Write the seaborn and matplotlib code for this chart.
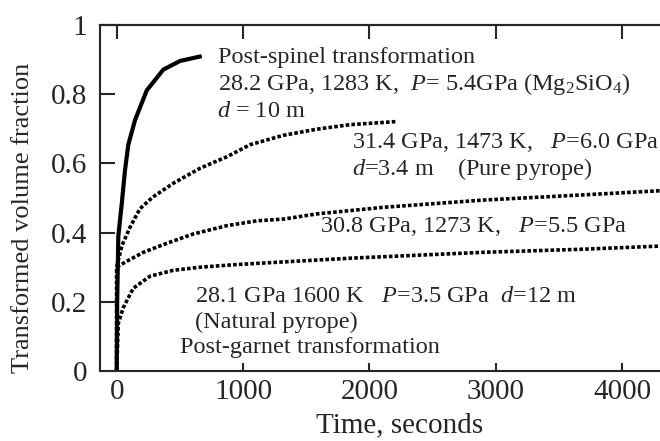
import matplotlib
matplotlib.use("Agg")
import matplotlib.pyplot as plt
import seaborn as sns

# ---- data ----
spinel_t = [0, 4, 13, 40, 66, 92, 145, 238, 369, 501, 673]
spinel_f = [0, 0.20, 0.39, 0.483, 0.581, 0.654, 0.725, 0.811, 0.871, 0.896, 0.910]

pure_t = [0, 0, 40, 105, 184, 287, 446, 660, 871, 1056, 1317, 1586, 1848, 2217]
pure_f = [0, 0.30, 0.361, 0.415, 0.469, 0.503, 0.542, 0.586, 0.619, 0.654, 0.681, 0.699, 0.712, 0.721]

mid_t = [0, 0, 79, 211, 396, 606, 871, 1108, 1319, 1584, 2108, 2900, 3692, 4300]
mid_f = [0, 0.30, 0.317, 0.343, 0.369, 0.396, 0.420, 0.434, 0.439, 0.454, 0.473, 0.494, 0.509, 0.521]

nat_t = [0, 13, 52, 131, 264, 448, 660, 923, 1108, 1847, 2900, 3692, 4300]
nat_f = [0, 0.138, 0.183, 0.239, 0.274, 0.291, 0.300, 0.307, 0.311, 0.326, 0.343, 0.352, 0.361]

x_ticks = [0, 1000, 2000, 3000, 4000]
y_ticks = [0, 0.2, 0.4, 0.6, 0.8, 1.0]
y_tick_labels = ["0", "0.2", "0.4", "0.6", "0.8", "1"]

sns.set_style("ticks")
plt.rcParams["font.family"] = ["Liberation Serif", "DejaVu Serif"]
plt.rcParams["mathtext.fontset"] = "custom"
plt.rcParams["mathtext.rm"] = "Liberation Serif"
plt.rcParams["mathtext.it"] = "Liberation Serif:italic"

fig = plt.figure(figsize=(6.6, 4.41), dpi=100)
ax = fig.add_axes([100 / 660, 1 - 371 / 441, 560 / 660, (371 - 25) / 441])

dot = (0, (1.0, 0.6))
sns.lineplot(x=spinel_t, y=spinel_f, ax=ax, color="black", lw=3.0,
             estimator=None, sort=False, solid_capstyle="butt")
for t, f in [(pure_t, pure_f), (mid_t, mid_f), (nat_t, nat_f)]:
    sns.lineplot(x=t, y=f, ax=ax, color="black", lw=2.6, linestyle=dot,
                 estimator=None, sort=False, dash_capstyle="butt")

ax.set_xlim(-132, 4300)
ax.set_ylim(0, 1)
ax.set_xticks(x_ticks)
ax.set_yticks(y_ticks)
ax.set_yticklabels(y_tick_labels)
ax.tick_params(axis="x", direction="in", length=6, width=1.5, labelsize=21, pad=6)
ax.tick_params(axis="y", direction="in", length=11, width=1.5, labelsize=21, pad=9)
sec = ax.secondary_xaxis("top")
sec.set_xticks(x_ticks)
sec.tick_params(direction="in", length=10, width=1.5, labelsize=0, labeltop=False)
sec.spines["top"].set_linewidth(1.5)
for s in ["left", "bottom", "top"]:
    ax.spines[s].set_linewidth(1.5)
ax.spines["right"].set_visible(False)

ax.set_xlabel("Time, seconds", fontsize=21)
ax.xaxis.set_label_coords((400 - 100) / 560, (371 - 412) / 346)
ax.set_ylabel("Transformed volume fraction", fontsize=19)
ax.yaxis.set_label_coords((34 - 100) / 560, (371 - 218) / 346)

def ftxt(px, py, s):
    fig.text(px / 660, 1 - py / 441, s, fontsize=17.5, va="baseline", ha="left")

ftxt(218, 63, "Post-spinel transformation")
ftxt(218, 90, r"28.2 GPa, 1283 K,  $P$= 5.4GPa (Mg$_2$SiO$_4$)")
ftxt(217, 117, r"$d$ = 10 m")
ftxt(352, 148, r"31.4 GPa, 1473 K,   $P$=6.0 GPa")
ftxt(352, 175, r"$d$=3.4 m    (Pure pyrope)")
ftxt(320, 232, r"30.8 GPa, 1273 K,   $P$=5.5 GPa")
ftxt(195, 302, r"28.1 GPa 1600 K   $P$=3.5 GPa  $d$=12 m")
ftxt(195, 328, "(Natural pyrope)")
ftxt(180, 353, "Post-garnet transformation")

fig.savefig("out.png", dpi=100)
